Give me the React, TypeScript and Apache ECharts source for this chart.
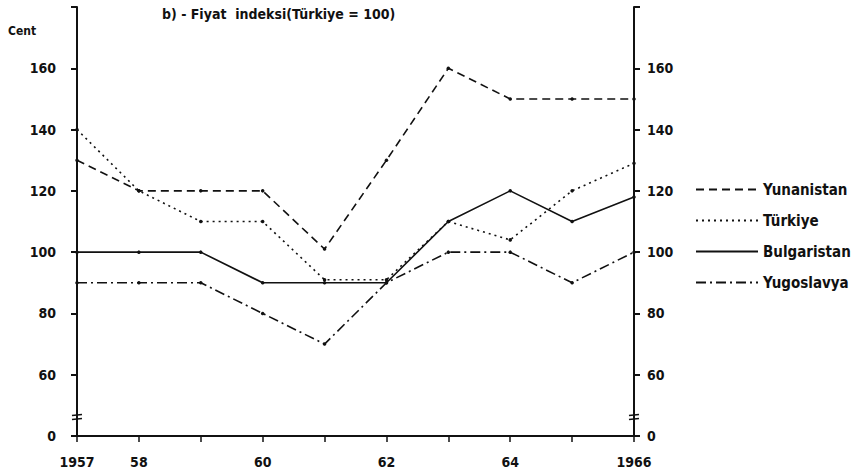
import React, { useEffect, useRef } from "react";
import * as echarts from "echarts";

const years = [1957, 1958, 1959, 1960, 1961, 1962, 1963, 1964, 1965, 1966];
const yunanistan = [130, 120, 120, 120, 101, 130, 160, 150, 150, 150];
const turkiye = [140, 120, 110, 110, 91, 91, 110, 104, 120, 129];
const bulgaristan = [100, 100, 100, 90, 90, 90, 110, 120, 110, 118];
const yugoslavya = [90, 90, 90, 80, 70, 90, 100, 100, 90, 100];
const xTickLabels: Record<number, string> = { 1957: "1957", 1958: "58", 1960: "60", 1962: "62", 1964: "64", 1966: "1966" };
const yTickLabels: Record<number, string> = { 40: "0", 60: "60", 80: "80", 100: "100", 120: "120", 140: "140", 160: "160" };

const FONT = "'DejaVu Sans Condensed', 'DejaVu Sans', sans-serif";
const INK = "#111";

export default function App() {
  const ref = useRef<HTMLDivElement>(null);
  useEffect(() => {
    if (!ref.current) return;
    const chart = echarts.init(ref.current, undefined, { renderer: "svg" });
    const mk = (name: string, vals: number[], type: any) => ({
      name,
      type: "line",
      data: years.map((y, i) => [y, vals[i]]),
      symbol: "circle",
      symbolSize: 3.5,
      itemStyle: { color: INK },
      lineStyle: { color: INK, width: 1.6, type },
    });
    const yAxisBase = (pos: "left" | "right") => ({
      type: "value",
      position: pos,
      min: 40,
      max: 180,
      interval: 20,
      axisLine: { show: true, lineStyle: { color: INK, width: 2 } },
      axisTick: { show: true, length: 6, lineStyle: { color: INK, width: 2 } },
      splitLine: { show: false },
      axisLabel: {
        color: INK,
        fontFamily: FONT,
        fontWeight: "bold",
        fontSize: 14,
        margin: pos === "left" ? 21 : 13,
        formatter: (v: number) => yTickLabels[v] ?? "",
      },
    });
    chart.setOption({
      animation: false,
      grid: { left: 77, right: 232, top: 7, bottom: 39 },
      xAxis: {
        type: "value",
        min: 1957,
        max: 1966,
        interval: 1,
        axisLine: { lineStyle: { color: INK, width: 2 } },
        axisTick: { show: true, length: 6, lineStyle: { color: INK, width: 1.5 } },
        splitLine: { show: false },
        axisLabel: {
          color: INK,
          fontFamily: FONT,
          fontWeight: "bold",
          fontSize: 14,
          margin: 19,
          formatter: (v: number) => xTickLabels[v] ?? "",
        },
      },
      yAxis: [yAxisBase("left"), yAxisBase("right")],
      legend: {
        orient: "vertical",
        left: 690,
        top: 177,
        itemWidth: 62,
        itemHeight: 14,
        itemGap: 16,
        textStyle: { color: INK, fontFamily: FONT, fontWeight: "bold", fontSize: 15 },
        itemStyle: { opacity: 0 },
        data: ["Yunanistan", "Türkiye", "Bulgaristan", "Yugoslavya"],
      },
      series: [
        mk("Yunanistan", yunanistan, [8, 5]),
        mk("Türkiye", turkiye, [2, 4]),
        mk("Bulgaristan", bulgaristan, "solid"),
        mk("Yugoslavya", yugoslavya, [10, 4, 2, 4]),
      ],
    });
    const yb = chart.convertToPixel({ yAxisIndex: 0 }, 46) as number;
    const xl = chart.convertToPixel({ xAxisIndex: 0 }, 1957) as number;
    const xr = chart.convertToPixel({ xAxisIndex: 0 }, 1966) as number;
    const brk = (x: number) => [
      { type: "line", shape: { x1: x - 5, y1: yb - 2, x2: x + 5, y2: yb - 3 }, style: { stroke: INK, lineWidth: 1.5 } },
      { type: "line", shape: { x1: x - 5, y1: yb + 2, x2: x + 5, y2: yb + 1 }, style: { stroke: INK, lineWidth: 1.5 } },
    ];
    chart.setOption({
      graphic: [
        {
          type: "text",
          left: 162,
          top: 7,
          style: { text: "b) - Fiyat  indeksi(Türkiye = 100)", fill: INK, font: `bold 14px ${FONT}` },
        },
        {
          type: "text",
          left: 8,
          top: 25,
          style: { text: "Cent", fill: INK, font: `bold 12px ${FONT}` },
        },
        ...brk(xl),
        ...brk(xr),
      ],
    });
    return () => chart.dispose();
  }, []);
  return <div ref={ref} style={{ position: "absolute", left: 0, top: 0, width: 866, height: 475 }} />;
}
